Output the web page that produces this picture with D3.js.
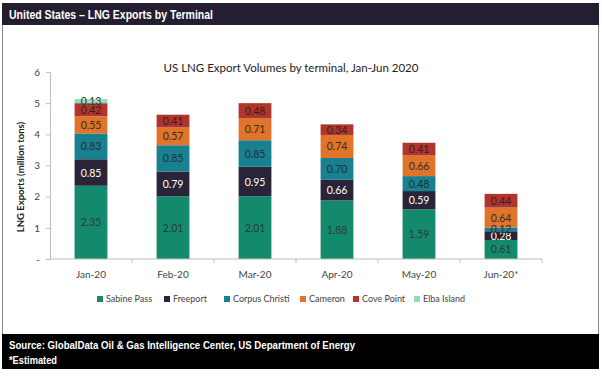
<!DOCTYPE html>
<html>
<head>
<meta charset="utf-8">
<script src="https://cdn.jsdelivr.net/npm/d3@7"></script>
<style>
  body { margin: 0; background: #fff; }
  svg { display: block; }
</style>
</head>
<body>
<svg id="chart"></svg>
<script>
// Data
const months = ['Jan-20', 'Feb-20', 'Mar-20', 'Apr-20', 'May-20', 'Jun-20*'];
const terminals = ['Sabine Pass', 'Freeport', 'Corpus Christi', 'Cameron', 'Cove Point', 'Elba Island'];
const sabinePass = [2.35, 2.01, 2.01, 1.88, 1.59, 0.61];
const freeport = [0.85, 0.79, 0.95, 0.66, 0.59, 0.28];
const corpusChristi = [0.83, 0.85, 0.85, 0.70, 0.48, 0.12];
const cameron = [0.55, 0.57, 0.71, 0.74, 0.66, 0.64];
const covePoint = [0.42, 0.41, 0.48, 0.34, 0.41, 0.44];
const elbaIsland = [0.13, 0, 0, 0, 0, 0];
const yTicks = [0, 1, 2, 3, 4, 5, 6];

const colors = ['#138a6c', '#2a2438', '#19808f', '#e0742a', '#b0352c', '#8ddfbb'];
const labelColors = ['#2b3b35', '#ffffff', '#1d2f33', '#3a2a1c', '#3a1c1a', '#2b3b35'];

const W = 602, H = 376;
const svg = d3.select('#chart').attr('width', W).attr('height', H);

// frame, header and footer
const boxFont = 'Liberation Sans, Arial, sans-serif';
svg.append('rect').attr('x', 2.5).attr('y', 3.5).attr('width', 596).attr('height', 365)
  .attr('fill', '#fff').attr('stroke', '#8a8a8a');
svg.append('rect').attr('x', 2).attr('y', 3).attr('width', 597).attr('height', 22).attr('fill', '#241e30');
svg.append('text').attr('x', 9).attr('y', 19)
  .attr('font-family', boxFont).attr('font-weight', 'bold')
  .attr('font-size', 12).attr('fill', '#fff')
  .attr('textLength', 204).attr('lengthAdjust', 'spacingAndGlyphs')
  .text('United States – LNG Exports by Terminal');

svg.append('rect').attr('x', 2).attr('y', 334).attr('width', 597).attr('height', 35).attr('fill', '#000');
svg.append('text').attr('x', 9).attr('y', 349)
  .attr('font-family', boxFont).attr('font-weight', 'bold')
  .attr('font-size', 11.5).attr('fill', '#fff')
  .attr('textLength', 346).attr('lengthAdjust', 'spacingAndGlyphs')
  .text('Source: GlobalData Oil & Gas Intelligence Center, US Department of Energy');
svg.append('text').attr('x', 9).attr('y', 364)
  .attr('font-family', boxFont).attr('font-weight', 'bold')
  .attr('font-size', 11.5).attr('fill', '#fff')
  .attr('textLength', 48).attr('lengthAdjust', 'spacingAndGlyphs')
  .text('*Estimated');

const font = 'Lato, "Open Sans", sans-serif';

// chart title
svg.append('text').attr('x', 291).attr('y', 72).attr('text-anchor', 'middle')
  .attr('font-family', font).attr('font-size', 11.5).attr('fill', '#222')
  .text('US LNG Export Volumes by terminal, Jan-Jun 2020');

const x = d3.scaleBand().domain(months).range([50, 542]).paddingInner(0.6).paddingOuter(0.3);
const y = d3.scaleLinear().domain([0, 6]).range([259, 72]);

// stack the series
const rows = months.map((m, i) => {
  const r = {month: m};
  [sabinePass, freeport, corpusChristi, cameron, covePoint, elbaIsland]
    .forEach((s, j) => { r[terminals[j]] = s[i]; });
  return r;
});
const stacked = d3.stack().keys(terminals)(rows);

const layers = svg.append('g').selectAll('g')
  .data(stacked).join('g')
  .attr('fill', (d, i) => colors[i]);

layers.selectAll('rect')
  .data(d => d.filter(p => p[1] - p[0] > 0))
  .join('rect')
  .attr('x', d => x(d.data.month))
  .attr('width', x.bandwidth())
  .attr('y', d => y(d[1]))
  .attr('height', d => y(d[0]) - y(d[1]));

// value labels
stacked.forEach((layer, i) => {
  svg.append('g').selectAll('text')
    .data(layer.filter(p => p[1] - p[0] > 0))
    .join('text')
    .attr('x', d => x(d.data.month) + x.bandwidth() / 2)
    .attr('y', d => (y(d[0]) + y(d[1])) / 2 + 4)
    .attr('text-anchor', 'middle')
    .attr('font-family', font).attr('font-size', 10.5)
    .attr('fill', labelColors[i])
    .text(d => (d[1] - d[0]).toFixed(2));
});

// axes
const axisColor = '#bdbdbd';
const yAxis = svg.append('g').attr('transform', 'translate(50,0)')
  .call(d3.axisLeft(y).tickValues(yTicks).tickSize(4).tickPadding(6)
    .tickFormat(d => d === 0 ? '-' : d));
const xAxis = svg.append('g').attr('transform', 'translate(0,259)')
  .call(d3.axisBottom(x).tickSize(0).tickPadding(12));
xAxis.selectAll('.tick')
  .append('line').attr('x1', x.step() / 2).attr('x2', x.step() / 2).attr('y1', 0).attr('y2', 4)
  .attr('stroke', axisColor);
[yAxis, xAxis].forEach(a => {
  a.select('.domain').attr('stroke', axisColor);
  a.selectAll('.tick line').attr('stroke', axisColor);
  a.selectAll('text').attr('font-family', font).attr('font-size', 10).attr('fill', '#444');
});
// x axis domain from y-axis to end of last band
xAxis.select('.domain').attr('d', 'M50,0H542');

svg.append('text')
  .attr('transform', 'translate(24,177) rotate(-90)')
  .attr('text-anchor', 'middle')
  .attr('font-family', font).attr('font-weight', 'bold').attr('font-size', 9.5)
  .attr('fill', '#222')
  .text('LNG Exports (million tons)');

// legend
const legendX = [97, 164, 224, 300, 353, 414];
const legend = svg.append('g').selectAll('g')
  .data(terminals).join('g')
  .attr('transform', (d, i) => `translate(${legendX[i]},299)`);
legend.append('rect').attr('x', 0).attr('y', -3).attr('width', 6).attr('height', 6)
  .attr('fill', (d, i) => colors[i]);
legend.append('text').attr('x', 9).attr('y', 3.2)
  .attr('font-family', font).attr('font-size', 9).attr('fill', '#444')
  .text(d => d);
</script>
</body>
</html>
